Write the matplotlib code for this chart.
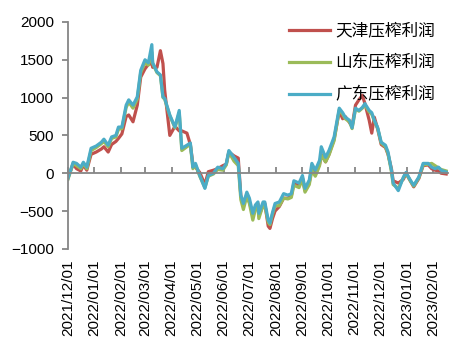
import pandas as pd
import matplotlib.pyplot as plt
import matplotlib.dates as mdates

plt.rcParams['font.family'] = ['Liberation Sans', 'Noto Sans CJK SC', 'DejaVu Sans']

dates = ["2021-12-01", "2021-12-07", "2021-12-11", "2021-12-16", "2021-12-19", "2021-12-23",
         "2021-12-28", "2022-01-03", "2022-01-09", "2022-01-12", "2022-01-17", "2022-01-21",
         "2022-01-26", "2022-01-29", "2022-02-02", "2022-02-07", "2022-02-10", "2022-02-15",
         "2022-02-20", "2022-02-24", "2022-03-01", "2022-03-05", "2022-03-09", "2022-03-10",
         "2022-03-15", "2022-03-19", "2022-03-22", "2022-03-24", "2022-03-30", "2022-04-05",
         "2022-04-10", "2022-04-13", "2022-04-19", "2022-04-23", "2022-04-26", "2022-04-29",
         "2022-05-04", "2022-05-10", "2022-05-14", "2022-05-20", "2022-05-25", "2022-05-31",
         "2022-06-04", "2022-06-07", "2022-06-13", "2022-06-18", "2022-06-21", "2022-06-24",
         "2022-06-28", "2022-07-01", "2022-07-05", "2022-07-08", "2022-07-11", "2022-07-12",
         "2022-07-17", "2022-07-19", "2022-07-23", "2022-07-25", "2022-07-28", "2022-07-31",
         "2022-08-05", "2022-08-10", "2022-08-15", "2022-08-19", "2022-08-22", "2022-08-28",
         "2022-09-01", "2022-09-04", "2022-09-09", "2022-09-12", "2022-09-16", "2022-09-21",
         "2022-09-23", "2022-09-28", "2022-10-02", "2022-10-08", "2022-10-14", "2022-10-18",
         "2022-10-21", "2022-10-26", "2022-10-29", "2022-11-02", "2022-11-06", "2022-11-10",
         "2022-11-13", "2022-11-18", "2022-11-21", "2022-11-24", "2022-11-28", "2022-12-02",
         "2022-12-07", "2022-12-10", "2022-12-14", "2022-12-16", "2022-12-22", "2022-12-28",
         "2022-12-31", "2023-01-05", "2023-01-09", "2023-01-15", "2023-01-20", "2023-01-26",
         "2023-01-30", "2023-02-03", "2023-02-07", "2023-02-10", "2023-02-16"]

tianjin = [-60, 120, 60, 30, 110, 40, 250, 280, 320, 350, 280, 380,
           420, 460, 520, 750, 770, 680, 900, 1270, 1380, 1440, 1450, 1400,
           1400, 1620, 1450, 1100, 500, 620, 560, 560, 530, 380, 120, 80,
           10, -150, 20, 40, 60, 100, 120, 280, 230, 200, -300, -400,
           -300, -380, -550, -450, -400, -560, -430, -400, -700, -730, -600, -500,
           -440, -330, -330, -300, -130, -170, -60, -230, -120, 60, -20, 120,
           250, 150, 250, 450, 820, 720, 750, 670, 620, 900, 970, 1030,
           920, 700, 530, 740, 580, 380, 340, 250, 60, -100, -130, -80,
           0, -100, -180, -70, 100, 110, 60, 40, 30, 0, -10]

shandong = [-80, 130, 100, 60, 130, 60, 300, 340, 390, 420, 350, 460,
            480, 580, 590, 870, 940, 860, 980, 1330, 1460, 1430, 1600, 1450,
            1330, 1290, 1000, 980, 760, 600, 800, 300, 350, 380, 60, 110,
            -40, -190, -40, -10, 50, 40, 110, 280, 160, 100, -350, -480,
            -300, -400, -620, -480, -430, -600, -420, -420, -650, -680, -540, -430,
            -430, -330, -340, -320, -160, -190, -80, -250, -150, 40, -40, 100,
            240, 150, 240, 430, 840, 780, 720, 680, 590, 850, 820, 860,
            900, 810, 780, 690, 590, 400, 350, 260, 20, -150, -200, -60,
            0, -100, -170, -60, 110, 120, 130, 100, 70, 50, 30]

guangdong = [-70, 145, 130, 80, 145, 80, 330, 360, 410, 450, 370, 480,
             500, 610, 610, 900, 970, 900, 1010, 1360, 1500, 1460, 1700, 1460,
             1340, 1300, 1010, 990, 770, 610, 830, 330, 370, 400, 80, 130,
             -30, -200, -30, 0, 80, 60, 130, 300, 210, 130, -290, -400,
             -250, -330, -530, -420, -380, -530, -380, -380, -620, -660, -520, -400,
             -380, -270, -290, -270, -100, -130, -30, -200, -90, 130, 40, 170,
             350, 210, 300, 480, 860, 800, 740, 700, 600, 860, 830, 870,
             920, 830, 800, 700, 600, 410, 370, 280, 40, -130, -230, -50,
             10, -90, -160, -50, 130, 130, 80, 60, 80, 40, 15]

labels = ["天津压榨利润", "山东压榨利润", "广东压榨利润"]
colors = ["#C0504D", "#9BBB59", "#4BACC6"]

x = pd.to_datetime(dates)

fig = plt.figure(figsize=(4.72, 3.54), dpi=100)
ax = fig.add_axes([0.144, 0.297, 0.805, 0.641])

for y, lab, c in zip([tianjin, shandong, guangdong], labels, colors):
    ax.plot(x, y, color=c, lw=2.3, label=lab, solid_joinstyle="round")

ax.set_ylim(-1000, 2000)
ax.set_yticks(range(-1000, 2001, 500))
ax.set_xlim(pd.Timestamp("2021-12-01"), pd.Timestamp("2023-02-18"))

ticks = pd.date_range("2021-12-01", "2023-02-01", freq="MS")
grey = "#868686"

# x axis line crosses at 0, ticks pointing up
ax.spines["bottom"].set_position(("data", 0))
ax.spines["bottom"].set_color(grey)
ax.spines["bottom"].set_linewidth(1.3)
ax.spines["left"].set_color(grey)
ax.spines["left"].set_linewidth(1.3)
ax.spines["top"].set_visible(False)
ax.spines["right"].set_visible(False)
ax.set_xticks(ticks)
ax.tick_params(axis="x", direction="in", length=4, width=1.3, color=grey,
               labelbottom=False)
ax.tick_params(axis="y", direction="out", length=4, width=1.3, color=grey,
               labelsize=11, pad=6)

# dates at the bottom of the plot
sec = ax.secondary_xaxis("bottom")
sec.set_xticks(ticks)
sec.xaxis.set_major_formatter(mdates.DateFormatter("%Y/%m/%d"))
sec.spines["bottom"].set_visible(False)
sec.tick_params(length=0, labelsize=11, labelrotation=90, pad=8)

ax.legend(loc="upper left", bbox_to_anchor=(0.581, 0.997), frameon=False,
          fontsize=12, handlelength=2.5, handletextpad=0.3, labelspacing=0.96,
          borderaxespad=0, borderpad=0)

fig.savefig("out.png", dpi=100)
